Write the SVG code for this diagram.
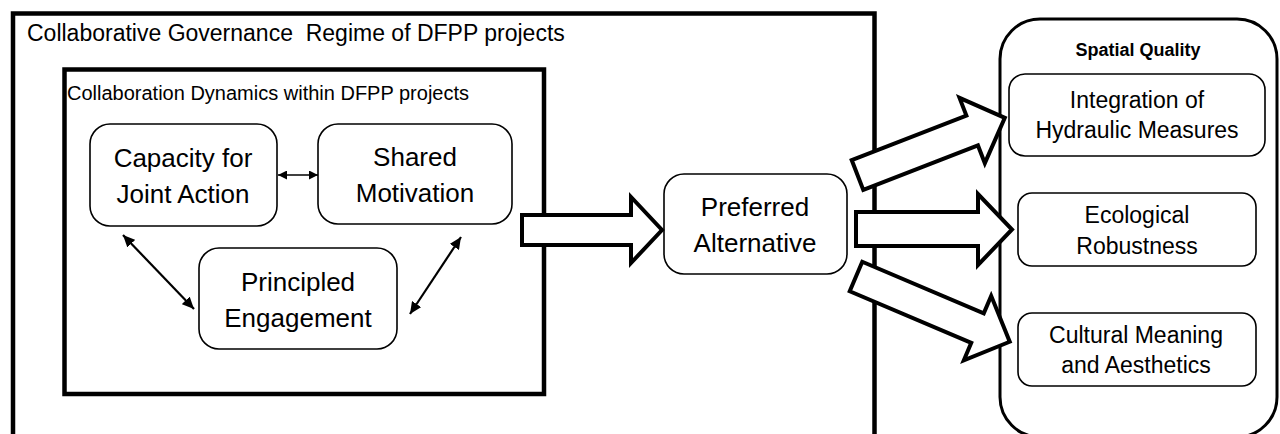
<svg xmlns="http://www.w3.org/2000/svg" width="1280" height="434" viewBox="0 0 1280 434">
<style>
text{font-family:"Liberation Sans",Arial,sans-serif;fill:#000}
.node{fill:#fff;stroke:#000;stroke-width:1.6}
.big{font-size:26px;text-anchor:middle}
.mid{font-size:23px;text-anchor:middle}
.block{fill:#fff;stroke:#000;stroke-width:4;stroke-linejoin:miter}
.thin{stroke:#000;fill:none}
</style>
<defs>
<marker id="hs" viewBox="0 0 10 10" refX="10" refY="5" markerWidth="9" markerHeight="9" markerUnits="userSpaceOnUse" orient="auto-start-reverse"><path d="M0,0 L10,5 L0,10 z" fill="#000"/></marker>
<marker id="hd" viewBox="0 0 10 10" refX="10" refY="5" markerWidth="12" markerHeight="11" markerUnits="userSpaceOnUse" orient="auto-start-reverse" preserveAspectRatio="none"><path d="M0,0 L10,5 L0,10 z" fill="#000"/></marker>
</defs>
<g id="outer-box">
<rect x="13" y="13.5" width="861.5" height="450" fill="#fff" stroke="#000" stroke-width="4.5"/>
<text x="27" y="41" font-size="23" xml:space="preserve">Collaborative Governance  Regime of DFPP projects</text>
</g>
<g id="inner-box">
<rect x="64.5" y="69.5" width="479.5" height="324.5" fill="#fff" stroke="#000" stroke-width="4.5"/>
<text x="67" y="100" font-size="20">Collaboration Dynamics within DFPP projects</text>
</g>
<g id="spatial-quality">
<rect x="1000" y="19" width="277" height="418" rx="40" fill="#fff" stroke="#000" stroke-width="3"/>
<text x="1138" y="56" font-size="18" font-weight="bold" text-anchor="middle">Spatial Quality</text>
</g>
<g id="capacity">
<rect class="node" x="90" y="124" width="187" height="102" rx="20"/>
<text class="big" x="183" y="167">Capacity for</text>
<text class="big" x="183" y="203">Joint Action</text>
</g>
<g id="shared">
<rect class="node" x="318" y="124" width="194" height="100" rx="20"/>
<text class="big" x="415" y="166">Shared</text>
<text class="big" x="415" y="202">Motivation</text>
</g>
<g id="principled">
<rect class="node" x="199" y="248" width="198" height="101" rx="20"/>
<text class="big" x="298" y="291">Principled</text>
<text class="big" x="298" y="327">Engagement</text>
</g>
<g id="preferred">
<rect class="node" x="664" y="174" width="183" height="100" rx="20"/>
<text class="big" x="755" y="216">Preferred</text>
<text class="big" x="755" y="252">Alternative</text>
</g>
<g id="integration">
<rect class="node" x="1009" y="74" width="256" height="82" rx="16"/>
<text class="mid" x="1137" y="108">Integration of</text>
<text class="mid" x="1137" y="138">Hydraulic Measures</text>
</g>
<g id="ecological">
<rect class="node" x="1018" y="193" width="238" height="73" rx="14"/>
<text class="mid" x="1137" y="223">Ecological</text>
<text class="mid" x="1137" y="254">Robustness</text>
</g>
<g id="cultural">
<rect class="node" x="1018" y="313" width="238" height="73" rx="14"/>
<text class="mid" x="1136" y="343">Cultural Meaning</text>
<text class="mid" x="1136" y="373">and Aesthetics</text>
</g>
<g id="connectors">
<line class="thin" x1="278" y1="175" x2="318" y2="175" stroke-width="1.3" marker-start="url(#hs)" marker-end="url(#hs)"/>
<line class="thin" x1="123" y1="235" x2="194" y2="309" stroke-width="2.2" marker-start="url(#hd)" marker-end="url(#hd)"/>
<line class="thin" x1="461" y1="237" x2="410" y2="314" stroke-width="2.2" marker-start="url(#hd)" marker-end="url(#hd)"/>
<polygon class="block" points="522,215 631,215 631,197 662,230 631,263 631,245 522,245"/>
<polygon class="block" transform="translate(857.5,175) rotate(-21.2)" points="0,-16 123,-16 123,-35 158,0 123,35 123,16 0,16"/>
<polygon class="block" points="856,212 978,212 978,194 1012,229.5 978,265 978,246 856,246"/>
<polygon class="block" transform="translate(856,276.5) rotate(23)" points="0,-16 132,-16 132,-35 167,0 132,35 132,16 0,16"/>
</g>
</svg>
